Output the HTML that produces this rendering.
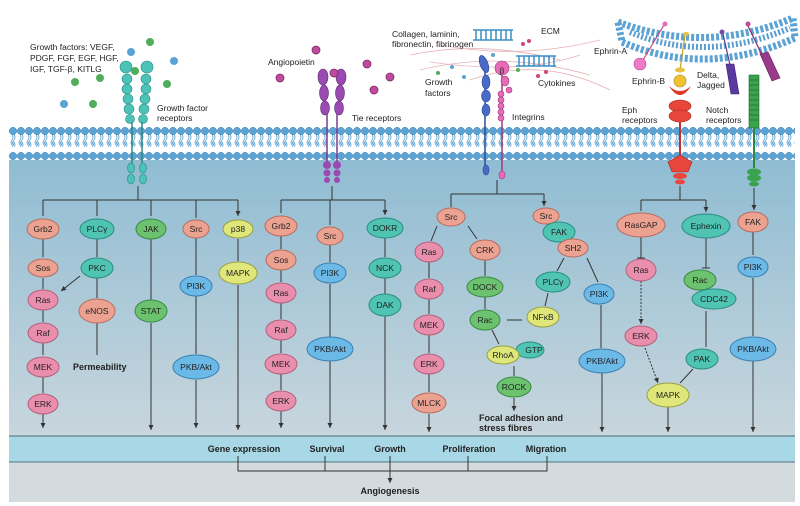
<!DOCTYPE html>
<html><head><meta charset="utf-8"><style>
html,body{margin:0;padding:0;background:#fff;}
svg{display:block;font-family:"Liberation Sans",sans-serif;}
.n{font-size:8.5px;text-anchor:middle;dominant-baseline:central;fill:#222;}
.l{font-size:8.5px;fill:#222;}
.bl{font-size:9px;font-weight:bold;fill:#222;}
.p{fill:#e98fad;stroke:#b2607c;stroke-width:1;}
.s{fill:#eca291;stroke:#b86b5d;stroke-width:1;}
.t{fill:#4fc4b3;stroke:#2a8d80;stroke-width:1;}
.g{fill:#6cc26f;stroke:#3a8a40;stroke-width:1;}
.b{fill:#6bb9e7;stroke:#3a7fb0;stroke-width:1;}
.y{fill:#dfe77b;stroke:#9aa040;stroke-width:1;}
.a{stroke:#333;stroke-width:1;fill:none;marker-end:url(#ar);}
.k{stroke:#333;stroke-width:1;fill:none;}
</style></head><body>
<svg width="800" height="506" viewBox="0 0 800 506" xmlns="http://www.w3.org/2000/svg">
<defs>
<marker id="ar" markerWidth="6" markerHeight="6" refX="5" refY="3" orient="auto" markerUnits="userSpaceOnUse"><path d="M0,0.5 L5,3 L0,5.5z" fill="#333"/></marker>
<linearGradient id="cy" x1="0" y1="0" x2="0" y2="1"><stop offset="0" stop-color="#8fbcd3"/><stop offset="1" stop-color="#c8d6dd"/></linearGradient>
<pattern id="mem" x="9" y="127" width="8" height="33" patternUnits="userSpaceOnUse">
<rect width="8" height="33" fill="#fff"/>
<path d="M3,7 q2,3 0,6 q-2,3 0,5 M5,7 q2,3 0,6 q-2,3 0,5 M3,15 q2,3 0,5 M5,15 q2,3 0,5" stroke="#5a9ecf" stroke-width="0.8" fill="none"/>
<circle cx="4" cy="4" r="3.7" fill="#5aa3d4" stroke="#3a7fb0" stroke-width="0.5"/>
<circle cx="4" cy="29" r="3.7" fill="#5aa3d4" stroke="#3a7fb0" stroke-width="0.5"/>
</pattern>
</defs>
<!-- backgrounds -->
<rect x="9" y="156" width="786" height="280" fill="url(#cy)"/>
<rect x="9" y="436" width="786" height="26" fill="#a8d7e6"/>
<line x1="9" y1="436" x2="795" y2="436" stroke="#6f8f9a" stroke-width="1.5"/>
<line x1="9" y1="462" x2="795" y2="462" stroke="#6f8f9a" stroke-width="1.5"/>
<rect x="9" y="463" width="786" height="39" fill="#d4dbde"/>
<rect x="9" y="127" width="786" height="33" fill="url(#mem)"/>

<!-- ECM fibres -->
<g stroke="#e7b3b8" stroke-width="0.8" fill="none">
<path d="M410,55 Q480,40 560,60"/><path d="M420,70 Q500,50 590,75"/><path d="M440,45 Q520,60 600,40"/><path d="M470,80 Q540,55 610,90"/><path d="M430,62 Q520,75 580,55"/>
</g>
<g stroke="#3a8fc8" stroke-width="1.5" fill="none">
<path d="M473,30 h40 M473,40 h40 M516,56 h40 M516,66 h40"/>
<path d="M476,30 v10 M481,30 v10 M486,30 v10 M491,30 v10 M496,30 v10 M501,30 v10 M506,30 v10 M511,30 v10 M519,56 v10 M524,56 v10 M529,56 v10 M534,56 v10 M539,56 v10 M544,56 v10 M549,56 v10 M554,56 v10"/>
</g>
<g fill="#c9487a"><circle cx="523" cy="44" r="2"/><circle cx="529" cy="41" r="2"/><circle cx="538" cy="76" r="2"/><circle cx="546" cy="72" r="2"/></g>
<g fill="#4fae5a"><circle cx="438" cy="73" r="2"/><circle cx="518" cy="70" r="2"/></g>
<g fill="#5aa3d4"><circle cx="452" cy="67" r="2"/><circle cx="464" cy="77" r="2"/><circle cx="493" cy="55" r="2"/></g>

<!-- neighbouring cell membrane -->
<path d="M618,22 Q705,55 793,18 L795,38 Q705,78 622,42 Z" fill="#fff" stroke="#5aa3d4" stroke-width="7" stroke-dasharray="3 2"/>
<path d="M630,32 Q705,64 790,28" stroke="#5a9ecf" stroke-width="6" fill="none" stroke-dasharray="2 2"/>
<!-- ephrin-A -->
<line x1="664" y1="25" x2="643" y2="60" stroke="#c9487a" stroke-width="1.2"/>
<circle cx="665" cy="24" r="2.5" fill="#e56ab8"/>
<circle cx="640" cy="64" r="6" fill="#f07ac8" stroke="#b04890" stroke-width="0.6"/>
<!-- ephrin-B -->
<line x1="685" y1="35" x2="680" y2="70" stroke="#c8a020" stroke-width="1.2"/>
<ellipse cx="686" cy="34" rx="3" ry="2" fill="#eac040"/>
<ellipse cx="680" cy="70" rx="5" ry="2.5" fill="#eac040"/>
<circle cx="680" cy="81" r="6" fill="#f2c232" stroke="#b08a20" stroke-width="0.6"/>
<!-- delta/jagged -->
<line x1="723" y1="34" x2="730" y2="65" stroke="#5a3a8a" stroke-width="1.2"/>
<circle cx="722" cy="32" r="2.5" fill="#7a4aa8"/>
<path d="M726,64 l8,0 l5,30 l-8,0z" fill="#5a3aa0" stroke="#3a2070" stroke-width="0.6"/>
<line x1="748" y1="26" x2="762" y2="55" stroke="#8a2a6a" stroke-width="1.2"/>
<circle cx="748" cy="24" r="2.5" fill="#c04a9a"/>
<path d="M760,54 l8,-2 l12,26 l-8,3z" fill="#9a3a8a" stroke="#6a1a5a" stroke-width="0.6"/>

<!-- Eph receptor -->
<path d="M669,86 Q680,104 691,86 Q680,96 669,86z" fill="#e0392e"/>
<line x1="680" y1="120" x2="680" y2="160" stroke="#c03030" stroke-width="2"/>
<ellipse cx="680" cy="106" rx="11" ry="6" fill="#e8463a" stroke="#a02a20" stroke-width="0.6"/>
<ellipse cx="680" cy="116" rx="11" ry="6" fill="#e8463a" stroke="#a02a20" stroke-width="0.6"/>
<polygon points="680,155 692,162 688,172 672,172 668,162" fill="#e8463a" stroke="#a02a20" stroke-width="0.6"/>
<ellipse cx="680" cy="176" rx="7" ry="3" fill="#e8463a"/><ellipse cx="680" cy="182" rx="5" ry="2.5" fill="#e8463a"/>
<!-- Notch -->
<rect x="749" y="75" width="10" height="53" fill="#3aa34e" stroke="#1f6a2e" stroke-width="0.6"/>
<path d="M749,80 h10 M749,85 h10 M749,90 h10 M749,95 h10 M749,100 h10 M749,105 h10 M749,110 h10 M749,115 h10 M749,120 h10" stroke="#1f6a2e" stroke-width="0.8"/>
<line x1="754" y1="128" x2="754" y2="168" stroke="#2a8a3e" stroke-width="2"/>
<ellipse cx="754" cy="172" rx="7" ry="3.5" fill="#3aa34e"/><ellipse cx="754" cy="178" rx="7" ry="3.5" fill="#3aa34e"/><ellipse cx="754" cy="184" rx="5" ry="2.5" fill="#3aa34e"/>

<!-- Growth factor receptor -->
<g fill="#4cc2b8" stroke="#2a8a80" stroke-width="0.6">
<circle cx="126" cy="67" r="6"/><circle cx="147" cy="67" r="6"/>
<circle cx="127" cy="79" r="5"/><circle cx="146" cy="79" r="5"/><circle cx="127" cy="89" r="5"/><circle cx="146" cy="89" r="5"/>
<circle cx="128" cy="99" r="5"/><circle cx="145" cy="99" r="5"/><circle cx="129" cy="109" r="5"/><circle cx="144" cy="109" r="5"/><circle cx="130" cy="119" r="4.5"/><circle cx="143" cy="119" r="4.5"/>
</g>
<line x1="132" y1="122" x2="132" y2="165" stroke="#2a8a80" stroke-width="1.5"/><line x1="142" y1="122" x2="142" y2="165" stroke="#2a8a80" stroke-width="1.5"/>
<g fill="#4cc2b8" stroke="#2a8a80" stroke-width="0.6">
<ellipse cx="131" cy="168" rx="3.5" ry="5"/><ellipse cx="143" cy="168" rx="3.5" ry="5"/><ellipse cx="131" cy="179" rx="3.5" ry="5"/><ellipse cx="143" cy="179" rx="3.5" ry="5"/>
</g>
<g fill="#4fae5a"><circle cx="150" cy="42" r="4"/><circle cx="100" cy="78" r="4"/><circle cx="75" cy="82" r="4"/><circle cx="167" cy="84" r="4"/><circle cx="93" cy="104" r="4"/><circle cx="135" cy="71" r="4"/></g>
<g fill="#5aa3d4"><circle cx="131" cy="52" r="4"/><circle cx="174" cy="61" r="4"/><circle cx="64" cy="104" r="4"/></g>

<!-- Tie receptor -->
<g fill="#9a4ab0" stroke="#5a2a70" stroke-width="0.6">
<ellipse cx="323" cy="77" rx="5" ry="8"/><ellipse cx="341" cy="77" rx="5" ry="8"/><ellipse cx="324" cy="93" rx="4.5" ry="8"/><ellipse cx="340" cy="93" rx="4.5" ry="8"/>
<ellipse cx="325" cy="108" rx="4.5" ry="7"/><ellipse cx="339" cy="108" rx="4.5" ry="7"/>
</g>
<line x1="327" y1="114" x2="327" y2="162" stroke="#7a3a90" stroke-width="1.5"/><line x1="337" y1="114" x2="337" y2="162" stroke="#7a3a90" stroke-width="1.5"/>
<g fill="#9a4ab0"><circle cx="327" cy="165" r="4"/><circle cx="337" cy="165" r="4"/><circle cx="327" cy="173" r="3.5"/><circle cx="337" cy="173" r="3.5"/><circle cx="327" cy="180" r="3"/><circle cx="337" cy="180" r="3"/></g>
<g fill="#c04aa0" stroke="#7a2a60" stroke-width="0.8"><circle cx="316" cy="50" r="4"/><circle cx="280" cy="78" r="4"/><circle cx="334" cy="73" r="4"/><circle cx="367" cy="64" r="4"/><circle cx="390" cy="77" r="4"/><circle cx="374" cy="90" r="4"/></g>

<!-- Integrins -->
<line x1="485" y1="70" x2="485" y2="172" stroke="#2a4a9a" stroke-width="1.5"/>
<line x1="502" y1="70" x2="502" y2="172" stroke="#a03a7a" stroke-width="1.5"/>
<g fill="#4a6ac8" stroke="#2a4a9a" stroke-width="0.6">
<ellipse cx="484" cy="64" rx="4" ry="9" transform="rotate(-20 484 64)"/><ellipse cx="486" cy="82" rx="4" ry="7"/><ellipse cx="486" cy="96" rx="4.5" ry="6"/><ellipse cx="486" cy="110" rx="4" ry="6"/><ellipse cx="486" cy="170" rx="3" ry="5"/>
</g>
<g fill="#e86ab8" stroke="#a03a7a" stroke-width="0.6">
<circle cx="502" cy="68" r="7"/><ellipse cx="505" cy="81" rx="4" ry="5"/><circle cx="509" cy="90" r="3"/><circle cx="501" cy="94" r="3"/><circle cx="501" cy="100" r="3"/><circle cx="501" cy="106" r="3"/><circle cx="501" cy="112" r="3"/><circle cx="501" cy="118" r="3"/><ellipse cx="502" cy="175" rx="3" ry="4"/>
</g>
<text x="502" y="71" class="n" style="font-size:8px">β</text>

<!-- top labels -->
<text class="l" x="30" y="50">Growth factors: VEGF,</text>
<text class="l" x="30" y="61">PDGF, FGF, EGF, HGF,</text>
<text class="l" x="30" y="72">IGF, TGF-β, KITLG</text>
<text class="l" x="157" y="111">Growth factor</text>
<text class="l" x="157" y="121">receptors</text>
<text class="l" x="268" y="65">Angiopoietin</text>
<text class="l" x="352" y="121">Tie receptors</text>
<text class="l" x="392" y="37">Collagen, laminin,</text>
<text class="l" x="392" y="47">fibronectin, fibrinogen</text>
<text class="l" x="541" y="34">ECM</text>
<text class="l" x="425" y="85">Growth</text>
<text class="l" x="425" y="96">factors</text>
<text class="l" x="538" y="86">Cytokines</text>
<text class="l" x="512" y="120">Integrins</text>
<text class="l" x="594" y="54">Ephrin-A</text>
<text class="l" x="632" y="84">Ephrin-B</text>
<text class="l" x="697" y="78">Delta,</text>
<text class="l" x="697" y="88">Jagged</text>
<text class="l" x="622" y="113">Eph</text>
<text class="l" x="622" y="123">receptors</text>
<text class="l" x="706" y="113">Notch</text>
<text class="l" x="706" y="123">receptors</text>

<!-- branch lines -->
<path class="k" d="M138,186 V200 M43,200 H238"/>
<path class="a" d="M43,200 V216 M97,200 V216 M151,200 V216 M196,200 V218 M238,200 V216"/>
<path class="k" d="M332,186 V200 M281,200 H385"/>
<path class="a" d="M281,200 V213 M330,200 V225 M385,200 V215"/>
<path class="k" d="M497,180 V194 M451,194 H544"/>
<path class="a" d="M451,194 V207 M544,194 V206"/>
<path class="k" d="M680,186 V200 M641,200 H706"/>
<path class="a" d="M641,200 V211 M706,200 V212"/>
<path class="a" d="M754,188 V210"/>

<!-- arrows -->
<path class="a" d="M43,239 V257 M43,278 V289 M43,310 V322 M43,343 V355 M43,377 V393 M43,414 V428"/>
<path class="a" d="M97,239 V257 M97,278 V298 M97,323 V355 M80,276 L61,291"/>
<path class="a" d="M151,239 V300 M151,323 V430"/>
<path class="a" d="M196,238 V275 M196,296 V354 M196,380 V428"/>
<path class="a" d="M238,239 V261 M238,285 V430"/>
<path class="a" d="M281,236 V249 M281,270 V282 M281,303 V319 M281,340 V353 M281,374 V390 M281,411 V428"/>
<path class="a" d="M330,245 V262 M330,284 V337 M330,361 V428"/>
<path class="a" d="M385,238 V257 M385,278 V294 M385,316 V430"/>
<path class="a" d="M437,226 L431,241 M468,226 L477,239 M429,262 V278 M429,299 V314 M429,335 V353 M429,374 V392 M429,414 V432"/>
<path class="a" d="M485,260 V276 M485,297 V309 M507,320 H522 M492,330 L499,344 M514,366 V376 M514,398 V411"/>
<path class="a" d="M564,258 L557,271 M587,258 L598,282 M548,293 L545,306 M601,305 V348 M602,373 V432"/>
<path class="k" d="M641,237 V258 M637,258 H645 M706,238 V268 M702,268 H710"/>
<path class="a" d="M641,281 V324" stroke-dasharray="2 1.5"/>
<path class="a" d="M645,348 L658,383" stroke-dasharray="2 1.5"/>
<path class="a" d="M706,311 V347 M693,369 L680,383 M668,407 V432"/>
<path class="a" d="M753,232 V255 M753,278 V336 M753,361 V432"/>

<!-- nodes -->
<g>
<ellipse class="s" cx="43" cy="229" rx="16" ry="10"/><text class="n" x="43" y="229">Grb2</text>
<ellipse class="s" cx="43" cy="268" rx="15" ry="9"/><text class="n" x="43" y="268">Sos</text>
<ellipse class="p" cx="43" cy="300" rx="15" ry="10"/><text class="n" x="43" y="300">Ras</text>
<ellipse class="p" cx="43" cy="333" rx="15" ry="10"/><text class="n" x="43" y="333">Raf</text>
<ellipse class="p" cx="43" cy="367" rx="16" ry="10"/><text class="n" x="43" y="367">MEK</text>
<ellipse class="p" cx="43" cy="404" rx="15" ry="10"/><text class="n" x="43" y="404">ERK</text>
<ellipse class="t" cx="97" cy="229" rx="17" ry="10"/><text class="n" x="97" y="229">PLCγ</text>
<ellipse class="t" cx="97" cy="268" rx="16" ry="10"/><text class="n" x="97" y="268">PKC</text>
<ellipse class="s" cx="97" cy="311" rx="18" ry="12"/><text class="n" x="97" y="311">eNOS</text>
<ellipse class="g" cx="151" cy="229" rx="15" ry="10"/><text class="n" x="151" y="229">JAK</text>
<ellipse class="g" cx="151" cy="311" rx="16" ry="11"/><text class="n" x="151" y="311">STAT</text>
<ellipse class="s" cx="196" cy="229" rx="13" ry="9"/><text class="n" x="196" y="229">Src</text>
<ellipse class="b" cx="196" cy="286" rx="16" ry="10"/><text class="n" x="196" y="286">PI3K</text>
<ellipse class="b" cx="196" cy="367" rx="23" ry="12"/><text class="n" x="196" y="367">PKB/Akt</text>
<ellipse class="y" cx="238" cy="229" rx="15" ry="9"/><text class="n" x="238" y="229">p38</text>
<ellipse class="y" cx="238" cy="273" rx="19" ry="11"/><text class="n" x="238" y="273">MAPK</text>
<ellipse class="s" cx="281" cy="226" rx="16" ry="10"/><text class="n" x="281" y="226">Grb2</text>
<ellipse class="s" cx="281" cy="260" rx="15" ry="10"/><text class="n" x="281" y="260">Sos</text>
<ellipse class="p" cx="281" cy="293" rx="15" ry="10"/><text class="n" x="281" y="293">Ras</text>
<ellipse class="p" cx="281" cy="330" rx="15" ry="10"/><text class="n" x="281" y="330">Raf</text>
<ellipse class="p" cx="281" cy="364" rx="16" ry="10"/><text class="n" x="281" y="364">MEK</text>
<ellipse class="p" cx="281" cy="401" rx="15" ry="10"/><text class="n" x="281" y="401">ERK</text>
<ellipse class="s" cx="330" cy="236" rx="13" ry="9"/><text class="n" x="330" y="236">Src</text>
<ellipse class="b" cx="330" cy="273" rx="16" ry="10"/><text class="n" x="330" y="273">PI3K</text>
<ellipse class="b" cx="330" cy="349" rx="23" ry="12"/><text class="n" x="330" y="349">PKB/Akt</text>
<ellipse class="t" cx="385" cy="228" rx="18" ry="10"/><text class="n" x="385" y="228">DOKR</text>
<ellipse class="t" cx="385" cy="268" rx="16" ry="10"/><text class="n" x="385" y="268">NCK</text>
<ellipse class="t" cx="385" cy="305" rx="16" ry="11"/><text class="n" x="385" y="305">DAK</text>
<ellipse class="s" cx="451" cy="217" rx="14" ry="9"/><text class="n" x="451" y="217">Src</text>
<ellipse class="p" cx="429" cy="252" rx="14" ry="10"/><text class="n" x="429" y="252">Ras</text>
<ellipse class="p" cx="429" cy="289" rx="14" ry="10"/><text class="n" x="429" y="289">Raf</text>
<ellipse class="p" cx="429" cy="325" rx="15" ry="10"/><text class="n" x="429" y="325">MEK</text>
<ellipse class="p" cx="429" cy="364" rx="15" ry="10"/><text class="n" x="429" y="364">ERK</text>
<ellipse class="s" cx="429" cy="403" rx="17" ry="10"/><text class="n" x="429" y="403">MLCK</text>
<ellipse class="s" cx="485" cy="250" rx="15" ry="10"/><text class="n" x="485" y="250">CRK</text>
<ellipse class="g" cx="485" cy="287" rx="18" ry="10"/><text class="n" x="485" y="287">DOCK</text>
<ellipse class="g" cx="485" cy="320" rx="15" ry="10"/><text class="n" x="485" y="320">Rac</text>
<ellipse class="y" cx="543" cy="317" rx="16" ry="10"/><text class="n" x="543" y="317">NFκB</text>
<ellipse class="t" cx="530" cy="350" rx="14" ry="8"/><text class="n" x="534" y="350">GTP</text>
<ellipse class="y" cx="503" cy="355" rx="16" ry="9"/><text class="n" x="503" y="355">RhoA</text>
<ellipse class="g" cx="514" cy="387" rx="17" ry="10"/><text class="n" x="514" y="387">ROCK</text>
<ellipse class="s" cx="546" cy="216" rx="13" ry="8"/><text class="n" x="546" y="216">Src</text>
<ellipse class="t" cx="559" cy="232" rx="16" ry="10"/><text class="n" x="559" y="232">FAK</text>
<ellipse class="s" cx="573" cy="248" rx="15" ry="9"/><text class="n" x="573" y="248">SH2</text>
<ellipse class="t" cx="553" cy="282" rx="17" ry="10"/><text class="n" x="553" y="282">PLCγ</text>
<ellipse class="b" cx="599" cy="294" rx="15" ry="10"/><text class="n" x="599" y="294">PI3K</text>
<ellipse class="b" cx="602" cy="361" rx="23" ry="12"/><text class="n" x="602" y="361">PKB/Akt</text>
<ellipse class="s" cx="641" cy="225" rx="24" ry="12"/><text class="n" x="641" y="225">RasGAP</text>
<ellipse class="p" cx="641" cy="270" rx="15" ry="11"/><text class="n" x="641" y="270">Ras</text>
<ellipse class="p" cx="641" cy="336" rx="16" ry="10"/><text class="n" x="641" y="336">ERK</text>
<ellipse class="t" cx="706" cy="226" rx="24" ry="12"/><text class="n" x="706" y="226">Ephexin</text>
<ellipse class="g" cx="700" cy="280" rx="16" ry="10"/><text class="n" x="700" y="280">Rac</text>
<ellipse class="t" cx="714" cy="299" rx="22" ry="10"/><text class="n" x="714" y="299">CDC42</text>
<ellipse class="t" cx="702" cy="359" rx="16" ry="10"/><text class="n" x="702" y="359">PAK</text>
<ellipse class="y" cx="668" cy="395" rx="21" ry="12"/><text class="n" x="668" y="395">MAPK</text>
<ellipse class="s" cx="753" cy="222" rx="15" ry="10"/><text class="n" x="753" y="222">FAK</text>
<ellipse class="b" cx="753" cy="267" rx="15" ry="10"/><text class="n" x="753" y="267">PI3K</text>
<ellipse class="b" cx="753" cy="349" rx="23" ry="12"/><text class="n" x="753" y="349">PKB/Akt</text>
</g>
<text class="bl" x="73" y="370">Permeability</text>
<text class="bl" x="479" y="421">Focal adhesion and</text>
<text class="bl" x="479" y="431">stress fibres</text>

<!-- bottom -->
<g class="bl" text-anchor="middle">
<text x="244" y="452">Gene expression</text>
<text x="327" y="452">Survival</text>
<text x="390" y="452">Growth</text>
<text x="469" y="452">Proliferation</text>
<text x="546" y="452">Migration</text>
<text x="390" y="494">Angiogenesis</text>
</g>
<path class="k" d="M238,456 V471 H547 V456 M325,456 V471 M468,456 V471"/>
<path class="a" d="M390,456 V483"/>
</svg>
</body></html>
